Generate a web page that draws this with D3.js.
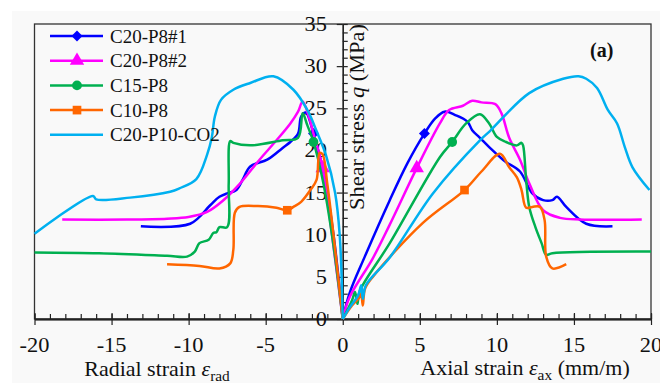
<!DOCTYPE html>
<html>
<head>
<meta charset="utf-8">
<script src="https://cdn.jsdelivr.net/npm/d3@7"></script>
<style>
  body { margin: 0; background: #fff; }
</style>
</head>
<body>
<svg width="660" height="383"></svg>
<script>
// series names, colours, marker symbols
const seriesNames = ['C20-P8#1', 'C20-P8#2', 'C15-P8', 'C10-P8', 'C20-P10-CO2']
const seriesColors = ['#0000ff', '#ff00ff', '#00b050', '#ff6600', '#00b0f0']
// diamond = square turned 45 degrees
const seriesSymbols = [d3.symbolSquare, d3.symbolTriangle, d3.symbolCircle, d3.symbolSquare, null]
const symbolTurn = [45, 0, 0, 0, 0]
const symbolSize = [60, 90, 75, 75, 0]

// [strain (mm/m), shear stress q (MPa)] - radial strain plotted negative
const radialC20P8a = [[0,0],[-0.6,10],[-1.2,17],[-1.9,22],[-2.4,24.5],[-2.7,24],[-2.9,22],[-3.4,21],[-3.9,20.3],[-4.9,18.9],[-6.0,18.1],[-6.5,16.5],[-6.9,15.3],[-7.5,14.9],[-8.0,14.5],[-8.6,13.5],[-9.9,11.3],[-13.1,11.0]]
const axialC20P8a = [[0,0],[0.45,3.1],[1.43,7.4],[3.05,14.1],[4.2,18.5],[5.3,22.0],[6.0,23.8],[6.6,24.6],[7.3,24.2],[8.1,23.4],[8.4,22.4],[8.9,21.5],[9.5,20.4],[10.4,18.9],[10.6,18.6],[11.5,17.5],[12.3,14.9],[13.0,14.1],[13.6,14.1],[13.9,14.5],[14.5,13.3],[15.8,11.3],[17.5,11.0]]

const radialC20P8b = [[0,0],[-0.7,10],[-1.3,17.9],[-1.9,22],[-2.2,24],[-2.6,25.8],[-2.9,24.6],[-3.4,23.2],[-4.3,21.2],[-5.4,18.9],[-6.7,16.0],[-7.8,14.0],[-8.8,12.7],[-10,12.1],[-11.4,11.9],[-14,11.8],[-18.2,11.8]]
const axialC20P8b = [[0,0],[0.45,2.6],[1.95,7.2],[3.05,11.2],[4.8,17.9],[6.3,23.2],[6.9,24.8],[7.8,25.3],[8.4,25.9],[9.0,25.7],[9.9,25.5],[10.3,24.4],[10.8,21.5],[11.5,18.9],[12.1,16.1],[13.0,12.9],[14.1,12.0],[15.4,11.8],[19.4,11.8]]

const radialC15P8 = [[0,0],[-0.7,10],[-1.3,16.5],[-1.9,21.0],[-2.3,23],[-2.6,24.4],[-2.9,21.5],[-3.9,21.2],[-6.0,20.6],[-7.1,20.9],[-7.3,21.1],[-7.4,16],[-7.5,10.9],[-8.0,10.9],[-8.2,10.3],[-8.4,10.2],[-8.7,9.4],[-9.3,9.0],[-9.6,8.0],[-10.1,7.4],[-11.4,7.5],[-15.8,7.8],[-20,7.9]]
const axialC15P8 = [[0,0],[0.6,2.2],[0.8,3.2],[0.95,1.8],[1.1,3.3],[3.05,9.0],[6.3,19.2],[7.1,21.0],[8.0,23.2],[8.9,24.3],[9.5,23.2],[10.0,21.6],[10.6,21.0],[11.3,20.6],[11.6,20.9],[11.7,20.6],[11.9,16.5],[12.1,13.3],[12.5,10.9],[12.9,9.0],[13.2,7.6],[13.6,7.8],[20,8.0]]

const radialC10P8 = [[0,0],[-0.6,10],[-1.0,16],[-1.3,19.5],[-1.5,19.7],[-1.7,16.5],[-2.1,15.3],[-2.7,13.9],[-3.2,13.3],[-3.6,12.9],[-4.3,13.2],[-5.5,13.4],[-6.7,13.3],[-7.0,12.6],[-7.1,8.2],[-7.3,6.6],[-8.0,6.0],[-9.3,6.3],[-11.4,6.5]]
const axialC10P8 = [[0,0],[0.6,1.6],[1.1,2.6],[1.2,3.0],[1.3,1.6],[1.45,3.6],[1.95,5.0],[5.2,11.4],[7.9,15.3],[9.0,17.5],[10.2,19.6],[10.8,18.0],[11.3,16.8],[11.6,15.3],[11.9,13.2],[12.3,13.3],[12.8,13.3],[13.1,11.7],[13.2,7.4],[13.6,6.0],[14.5,6.5]]

const radialC20P10 = [[0,0],[-0.2,10],[-0.5,15],[-1.1,19.5],[-1.7,22.3],[-2.3,24.8],[-3.2,27.2],[-4.5,28.8],[-6.0,28.0],[-7.1,27.2],[-7.9,26],[-8.3,24],[-8.5,21.5],[-8.8,19.5],[-9.5,16.6],[-10.6,15.5],[-11.2,15.1],[-13.8,14.4],[-16.0,14.2],[-16.2,14.6],[-20,10.1]]
const axialC20P10 = [[0,0],[0.5,1.5],[1.0,2.8],[1.2,4.0],[1.3,2.4],[1.5,4.0],[3.05,7.3],[5.85,14.9],[8.9,21.2],[9.55,22.3],[12.1,26.8],[14.3,28.5],[15.3,28.8],[15.8,28.5],[16.5,27.4],[17.2,24.8],[17.8,23.2],[18.3,20.4],[18.8,18],[19.9,15.3]]

const radialData = [radialC20P8a, radialC20P8b, radialC15P8, radialC10P8, radialC20P10]
const axialData = [axialC20P8a, axialC20P8b, axialC15P8, axialC10P8, axialC20P10]

// one marker per branch
const markersRadial = [[-1.9,22.0],[-1.3,17.9],[-1.9,21.0],[-3.6,12.9],null]
const markersAxial = [[5.3,22.0],[4.8,17.9],[7.1,21.0],[7.9,15.3],null]

const xTicks = [-20, -15, -10, -5, 0, 5, 10, 15, 20]
const yTicks = [0, 5, 10, 15, 20, 25, 30, 35]

const serif = "'Liberation Serif', 'Times New Roman', serif"

const svg = d3.select('svg'),
  width = +svg.attr('width'),
  height = +svg.attr('height')

svg.style('font-family', serif)

svg.append('rect').attr('width', width).attr('height', height).attr('fill', '#fff')
svg.append('rect').attr('x', 12).attr('y', 11)
  .attr('width', width - 12).attr('height', height - 11).attr('fill', '#f9f9f9')

const x = d3.scaleLinear().domain([-20, 20]).range([34.5, 651])
const y = d3.scaleLinear().domain([0, 35]).range([319, 24])

// frame
svg.append('rect')
  .attr('x', x(-20)).attr('y', y(35))
  .attr('width', x(20) - x(-20)).attr('height', y(0) - y(35))
  .attr('fill', 'none').attr('stroke', '#333').attr('stroke-width', 1.3)

// x axis ticks
const xg = svg.append('g').attr('transform', `translate(0,${y(0)})`)
xg.append('g').call(d3.axisBottom(x).tickValues(d3.range(-20, 21)).tickSize(-5).tickSizeOuter(0).tickFormat(''))
xg.append('g').call(d3.axisBottom(x).tickValues(xTicks).tickSize(-6).tickSizeOuter(0).tickFormat(''))
xg.append('g').call(d3.axisBottom(x).tickValues(xTicks).tickSize(6).tickSizeOuter(0).tickFormat(''))
xg.selectAll('.domain').attr('stroke', '#222').attr('stroke-width', 1.3)
xg.selectAll('.tick line').attr('stroke', '#222').attr('stroke-width', 1.2)

// y axis at x = 0
const yg = svg.append('g').attr('transform', `translate(${x(0)},0)`)
yg.append('g').call(d3.axisRight(y).tickValues(d3.range(0, 36)).tickSize(5).tickSizeOuter(0).tickFormat(''))
yg.append('g').call(d3.axisLeft(y).tickValues(yTicks).tickSize(6).tickSizeOuter(0).tickFormat(''))
yg.selectAll('.domain').attr('stroke', '#222').attr('stroke-width', 1.3)
yg.selectAll('.tick line').attr('stroke', '#222').attr('stroke-width', 1.2)

// tick labels (slightly wide serif, like the source)
svg.append('g').selectAll('text').data(xTicks).enter().append('text')
  .attr('transform', d => `translate(${x(d)},352) scale(1.12,1)`)
  .attr('text-anchor', 'middle').attr('font-size', 20).attr('fill', '#111')
  .style('font-family', serif)
  .text(d => d)

svg.append('g').selectAll('text').data(yTicks).enter().append('text')
  .attr('transform', d => `translate(327,${y(d)}) scale(1.12,1)`)
  .attr('text-anchor', 'end').attr('dy', '0.35em').attr('font-size', 20).attr('fill', '#111')
  .style('font-family', serif)
  .text(d => d)

// axis titles
const radTitle = svg.append('text')
  .attr('transform', 'translate(157,376) scale(1.1,1)')
  .attr('text-anchor', 'middle').attr('font-size', 20).attr('fill', '#111')
  .style('font-family', serif)
radTitle.append('tspan').text('Radial strain ')
radTitle.append('tspan').attr('font-style', 'italic').text('ε')
radTitle.append('tspan').attr('font-size', 14).attr('dy', 5).text('rad')

const axTitle = svg.append('text')
  .attr('transform', 'translate(525,375) scale(1.1,1)')
  .attr('text-anchor', 'middle').attr('font-size', 20).attr('fill', '#111')
  .style('font-family', serif)
axTitle.append('tspan').text('Axial strain ')
axTitle.append('tspan').attr('font-style', 'italic').text('ε')
axTitle.append('tspan').attr('font-size', 14).attr('dy', 5).text('ax')
axTitle.append('tspan').attr('dy', -5).text(' (mm/m)')

const yTitle = svg.append('text')
  .attr('transform', 'translate(364,117) rotate(-90) scale(1.12,1)')
  .attr('text-anchor', 'middle').attr('font-size', 20).attr('fill', '#111')
  .style('font-family', serif)
yTitle.append('tspan').text('Shear stress ')
yTitle.append('tspan').attr('font-style', 'italic').text('q')
yTitle.append('tspan').text(' (MPa)')

svg.append('text').attr('x', 590).attr('y', 57)
  .attr('font-size', 20).attr('font-weight', 'bold').attr('fill', '#111')
  .style('font-family', serif)
  .text('(a)')

// curves
const line = d3.line()
  .curve(d3.curveCatmullRom.alpha(0.5))
  .x(d => x(d[0]))
  .y(d => y(d[1]))

const marker = (i, cx, cy) =>
  `translate(${cx},${cy}) rotate(${symbolTurn[i]})`

const plot = svg.append('g')
seriesNames.forEach((name, i) => {
  ;[radialData[i], axialData[i]].forEach(pts => {
    plot.append('path')
      .datum(pts)
      .attr('d', line)
      .attr('fill', 'none')
      .attr('stroke', seriesColors[i])
      .attr('stroke-width', 2.5)
      .attr('stroke-linejoin', 'round')
  })
  if (seriesSymbols[i]) {
    ;[markersRadial[i], markersAxial[i]].forEach(m => {
      plot.append('path')
        .attr('d', d3.symbol().type(seriesSymbols[i]).size(symbolSize[i])())
        .attr('transform', marker(i, x(m[0]), y(m[1])))
        .attr('fill', seriesColors[i])
    })
  }
})

// legend
const legend = svg.append('g')
seriesNames.forEach((name, i) => {
  const ly = 36 + i * 24.7
  legend.append('line')
    .attr('x1', 50).attr('x2', 103).attr('y1', ly).attr('y2', ly)
    .attr('stroke', seriesColors[i]).attr('stroke-width', 2.5)
  if (seriesSymbols[i]) {
    legend.append('path')
      .attr('d', d3.symbol().type(seriesSymbols[i]).size(symbolSize[i])())
      .attr('transform', marker(i, 77, ly))
      .attr('fill', seriesColors[i])
  }
  legend.append('text')
    .attr('x', 110).attr('y', ly).attr('dy', '0.35em')
    .attr('font-size', 19).attr('fill', '#111')
    .style('font-family', serif)
    .text(name)
})
</script>
</body>
</html>
